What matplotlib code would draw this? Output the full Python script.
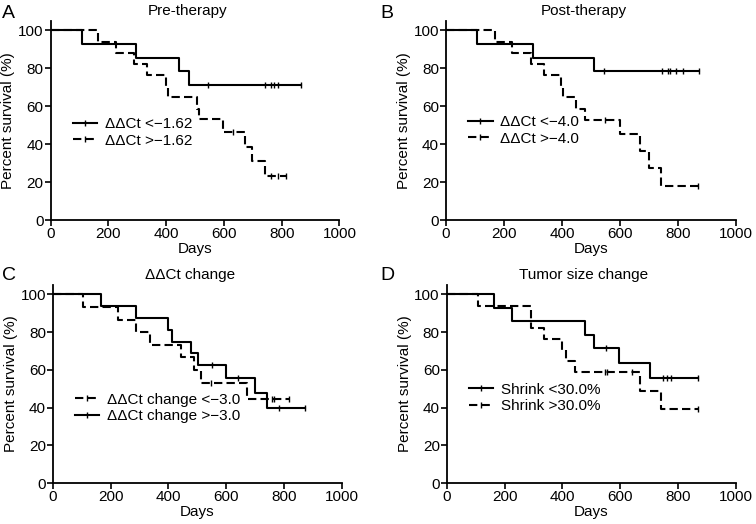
import numpy as np
import matplotlib
matplotlib.use('Agg')
import matplotlib.pyplot as plt

plt.rcParams['font.family'] = ['Liberation Sans', 'DejaVu Sans']
plt.rcParams['font.size'] = 11

# step data: (times, survival %), censor times
# panel A, pre-therapy
a1_t = [0, 107, 297, 443, 479, 867]
a1_s = [100, 92.9, 85.7, 78.6, 71.4, 71.4]
a1_c = [545, 743, 764, 772, 788, 867]
a2_t = [0, 165, 228, 290, 332, 399, 408, 508, 515, 597, 672, 697, 741, 816]
a2_s = [100, 94.1, 88.2, 82.4, 76.5, 70.6, 64.7, 58.8, 53.1, 46.4, 38.7, 30.9, 23.2, 23.2]
a2_c = [631, 764, 787, 816]
a_labels = ['ΔΔCt <\u22121.62', 'ΔΔCt >\u22121.62']

# panel B, post-therapy
b1_t = [0, 107, 300, 508, 870]
b1_s = [100, 92.9, 85.7, 78.6, 78.6]
b1_c = [545, 745, 764, 772, 793, 815, 870]
b2_t = [0, 167, 227, 294, 336, 397, 404, 446, 480, 600, 669, 700, 741, 869]
b2_s = [100, 94.1, 88.2, 82.4, 76.5, 70.6, 64.7, 58.8, 52.9, 45.3, 36.3, 27.2, 18.1, 18.1]
b2_c = [547, 869]
b_labels = ['ΔΔCt <\u22124.0', 'ΔΔCt >\u22124.0']

# panel C, ddCt change
c1_t = [0, 104, 225, 288, 335, 444, 490, 513, 671, 817]
c1_s = [100, 93.3, 86.7, 80.0, 73.3, 66.7, 60.0, 53.3, 44.4, 44.4]
c1_c = [548, 758, 765, 817]
c2_t = [0, 165, 288, 400, 412, 478, 502, 599, 699, 740, 872]
c2_s = [100, 93.8, 87.5, 81.3, 75.0, 68.8, 62.5, 55.6, 47.6, 39.7, 39.7]
c2_c = [550, 640, 782, 872]
c_labels = ['ΔΔCt change <\u22123.0', 'ΔΔCt change >\u22123.0']

# panel D, tumor size change
d1_t = [0, 165, 225, 479, 509, 598, 702, 870]
d1_s = [100, 92.9, 85.7, 78.6, 71.4, 63.5, 55.6, 55.6]
d1_c = [550, 748, 764, 775, 870]
d2_t = [0, 107, 292, 335, 400, 413, 445, 670, 740, 870]
d2_s = [100, 94.1, 82.4, 76.5, 70.6, 64.7, 58.8, 49.0, 39.2, 39.2]
d2_c = [549, 555, 640, 870]
d_labels = ['Shrink <30.0%', 'Shrink >30.0%']

titles = ['Pre-therapy', 'Post-therapy', 'ΔΔCt change', 'Tumor size change']
letters = ['A', 'B', 'C', 'D']

fig = plt.figure(figsize=(7.56, 5.24), dpi=100)
rects = [[0.067, 0.580, 0.382, 0.380],
         [0.590, 0.580, 0.384, 0.380],
         [0.070, 0.078, 0.382, 0.378],
         [0.591, 0.078, 0.382, 0.378]]
letter_pos = [(0.003, 0.99), (0.503, 0.99), (0.003, 0.49), (0.503, 0.49)]
legend_y = [0.44, 0.45, 0.38, 0.43]

panels = [
    ((a1_t, a1_s, a1_c, '-'), (a2_t, a2_s, a2_c, '--'), a_labels),
    ((b1_t, b1_s, b1_c, '-'), (b2_t, b2_s, b2_c, '--'), b_labels),
    ((c1_t, c1_s, c1_c, '--'), (c2_t, c2_s, c2_c, '-'), c_labels),
    ((d1_t, d1_s, d1_c, '-'), (d2_t, d2_s, d2_c, '--'), d_labels),
]


def surv_at(t, s, x):
    idx = np.searchsorted(t, x, side='right') - 1
    return np.array(s)[idx]


for i, (g1, g2, labs) in enumerate(panels):
    ax = fig.add_axes(rects[i])
    for (t, s, c, ls), lab in zip((g1, g2), labs):
        dash = (0, (4, 2)) if ls == '--' else '-'
        ax.step(t, s, where='post', color='black', lw=1.5, linestyle=dash)
        ax.plot(c, surv_at(t, s, c), linestyle='none', marker='|',
                color='black', markersize=4, mew=1.0)
        ax.plot([], [], color='black', lw=1.5, linestyle=dash, marker='|',
                markersize=4, mew=1.0, label=lab)
    ax.set_xlim(0, 1000)
    ax.set_ylim(0, 105)
    ax.set_xticks([0, 200, 400, 600, 800, 1000])
    ax.set_yticks([0, 20, 40, 60, 80, 100])
    ax.spines['top'].set_visible(False)
    ax.spines['right'].set_visible(False)
    ax.spines['left'].set_linewidth(1.3)
    ax.spines['bottom'].set_linewidth(1.3)
    ax.tick_params(direction='out', length=4, width=1.2, labelsize=11, pad=1)
    ax.set_xlabel('Days', fontsize=11, labelpad=1)
    ax.set_ylabel('Percent survival (%)', fontsize=11, labelpad=2)
    ax.text(0.475, 1.015, titles[i], transform=ax.transAxes, ha='center',
            va='bottom', fontsize=11)
    ax.legend(loc='center left', bbox_to_anchor=(0.05, legend_y[i]), frameon=False,
              fontsize=11, handlelength=1.6, handletextpad=0.5,
              labelspacing=0.15, borderpad=0)
    fig.text(letter_pos[i][0], letter_pos[i][1], letters[i], fontsize=14,
             ha='left', va='top')

fig.savefig('out.png', dpi=100)
